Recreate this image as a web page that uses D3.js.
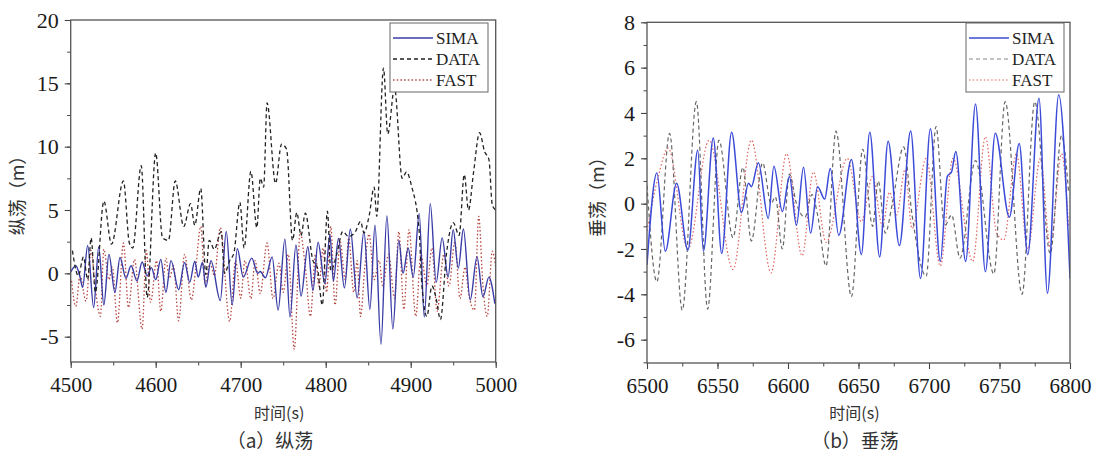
<!DOCTYPE html>
<html><head><meta charset="utf-8">
<script src="https://cdn.jsdelivr.net/npm/d3@7"></script>
<style>body{margin:0;background:#fff}svg{display:block}</style>
</head><body>
<svg id="c" width="1097" height="455"></svg>
<script>
// ---------- data ----------
const seriesNames = ["SIMA", "DATA", "FAST"];

const surgeXTicks = [4500, 4600, 4700, 4800, 4900, 5000];
const surgeYTicks = [-5, 0, 5, 10, 15, 20];
const heaveXTicks = [6500, 6550, 6600, 6650, 6700, 6750, 6800];
const heaveYTicks = [-6, -4, -2, 0, 2, 4, 6, 8];

const surgeSimaT = [4500,4506,4511,4514,4520,4527,4533,4539,4545,4552,4558,4565,4571,4578,4584,4590,4595,4600,4606,4612,4618,4627,4634,4640,4646,4650,4655,4659,4665,4676,4683,4690,4696,4703,4713,4720,4723,4729,4737,4744,4752,4758,4765,4771,4779,4785,4791,4799,4805,4809,4815,4822,4829,4837,4845,4852,4858,4865,4872,4879,4886,4891,4897,4903,4910,4916,4923,4930,4937,4944,4950,4956,4962,4970,4978,4985,4992,4999];
const surgeSimaV = [0.1,0.6,-0.3,-1.1,2.2,-2.7,2.1,-2.5,1.5,-1.5,1.25,-0.4,0.6,-0.6,0.9,-0.2,0.45,-0.5,1.1,-1.5,1.0,-1.3,0.85,-0.7,0.95,-0.3,0.85,-1.1,1.0,-2.15,3.3,-2.5,1.95,-0.3,1.2,0.0,0.15,-0.35,1.3,-2.9,2.7,-3.45,2.25,-1.8,2.1,-1.35,2.45,-0.8,3.05,-0.6,2.75,-1.15,3.5,-1.95,3.3,-2.85,3.8,-5.6,4.55,-4.4,2.6,0.0,2.0,-0.3,4.7,-3.45,5.5,-0.7,2.8,-0.3,3.45,0.4,3.5,-2.1,1.3,-1.85,-0.3,-2.4];

const surgeDataT = [4502,4509,4515,4520,4524,4529,4539,4548,4562,4569,4573,4583,4590,4600,4608,4615,4623,4633,4641,4646,4653,4659,4663,4669,4677,4681,4687,4692,4699,4704,4712,4719,4723,4727,4731,4741,4748,4754,4761,4766,4771,4776,4785,4790,4796,4802,4806,4813,4820,4827,4835,4841,4845,4851,4857,4860,4868,4873,4881,4890,4895,4901,4910,4913,4919,4925,4930,4935,4942,4950,4957,4963,4968,4974,4981,4987,4992,4996,5000];
const surgeDataV = [1.8,-0.2,1.3,-0.5,2.8,-1.5,5.7,2.3,7.3,2.4,2.0,8.5,-1.9,9.5,2.8,2.6,7.3,3.7,5.5,3.8,6.7,-0.1,2.6,1.9,3.3,0.0,1.0,1.6,5.6,2.0,8.05,3.6,7.5,6.8,13.45,7.1,10.2,9.8,2.6,4.8,3.0,4.75,1.0,0.5,-2.5,4.9,0.2,1.5,3.3,2.9,3.3,4.1,3.2,4.5,6.8,4.5,16.2,11.0,14.6,7.5,8.0,6.9,3.3,-0.8,-3.4,-1.0,-2.0,-3.65,1.5,4.0,3.0,7.8,5.0,8.0,11.1,9.6,9.0,5.4,5.0];

const surgeFastT = [4501,4506,4511,4518,4524,4529,4535,4539,4545,4549,4555,4562,4568,4575,4584,4589,4594,4601,4606,4612,4616,4621,4627,4634,4642,4647,4653,4658,4664,4669,4676,4687,4694,4700,4705,4712,4717,4723,4731,4738,4745,4750,4756,4763,4770,4776,4782,4788,4792,4797,4801,4806,4811,4817,4823,4827,4833,4837,4841,4846,4851,4857,4863,4867,4874,4881,4886,4892,4898,4906,4912,4919,4925,4931,4939,4945,4952,4958,4964,4968,4975,4980,4985,4990,4996,5000];
const surgeFastV = [-0.6,-2.6,-0.2,-2.2,1.8,-1.2,-3.4,1.9,-0.5,0.5,-3.9,2.4,-2.7,1.1,-4.4,1.8,-2.3,1.0,-3.0,1.2,-0.4,0.6,-3.75,1.5,-2.1,0.3,3.7,-0.8,0.8,-0.2,3.6,-3.8,1.0,-1.95,1.0,-2.0,1.0,-1.6,2.4,-2.0,0.8,-1.5,1.5,-6.0,3.2,0.5,-3.4,1.5,-1.0,2.0,-1.5,3.7,-2.5,2.5,-0.5,2.8,-1.5,1.0,-3.4,0.5,3.1,-0.5,1.0,-1.0,1.5,-2.0,3.3,-2.85,3.45,-3.4,1.5,-1.0,2.0,-3.0,1.5,-1.0,2.5,-2.0,0.5,-1.5,-2.9,4.5,-1.0,-3.4,1.75,0.5];

const heaveSimaT = [6500,6507,6513,6521,6529,6536,6540,6547,6553,6560,6567,6572,6574,6579,6586,6590,6596,6601,6606,6611,6616,6621,6626,6630,6636,6645,6652,6658,6665,6671,6679,6687,6694,6701,6708,6713,6716,6719,6726,6733,6740,6747,6757,6764,6770,6778,6784,6792,6800];
const heaveSimaV = [-2.7,1.35,-2.1,0.9,-2.05,2.35,-2.1,2.9,-2.2,3.15,-0.4,0.9,0.75,1.8,-0.65,1.65,-0.35,1.2,-0.95,1.6,-1.3,0.75,0.2,1.55,-1.4,1.95,-2.25,3.15,-2.35,2.75,-1.85,3.2,-3.3,3.3,-2.55,1.2,1.4,2.3,-2.55,4.4,-3.0,3.1,-0.6,2.65,-2.25,4.65,-3.95,4.8,-3.3];

const heaveDataT = [6500,6507,6516,6525,6535,6543,6551,6561,6568,6574,6582,6588,6591,6596,6601,6606,6612,6617,6621,6627,6634,6645,6653,6660,6664,6669,6674,6682,6688,6698,6705,6711,6716,6722,6733,6746,6754,6766,6775,6786,6794,6799];
const heaveDataV = [0.8,-3.45,3.1,-4.7,4.5,-4.65,2.8,-1.5,1.6,-1.65,1.8,0.0,0.3,-2.0,1.3,0.0,-0.6,0.4,-0.5,-2.75,3.2,-4.1,2.4,-1.0,1.0,-1.3,0.0,2.5,-0.5,-3.2,3.4,-1.0,-0.5,-2.4,1.9,-3.1,4.5,-4.0,4.5,-2.2,3.0,0.5];

const heaveFastT = [6500,6508,6515,6529,6544,6561,6574,6588,6599,6610,6618,6627,6642,6652,6660,6667,6672,6677,6683,6688,6698,6708,6717,6731,6740,6748,6753,6762,6770,6779,6786,6794,6799];
const heaveFastV = [-1.2,1.2,2.45,-2.0,2.8,-2.9,2.8,-3.05,2.2,-2.3,1.4,-1.7,2.0,-0.8,1.2,-1.0,0.5,-0.5,1.5,-1.1,2.0,-2.75,2.0,-2.55,2.95,-1.3,-1.6,2.2,-2.0,2.0,-1.9,2.2,-1.0];

// ---------- drawing ----------
const svg = d3.select("#c");
const serif = "'Liberation Serif','Times New Roman',serif";
const cjk = "'Noto Sans CJK SC','Noto Sans CJK JP',sans-serif";

function zip(t, v) { return t.map((d, i) => ({t: d, v: v[i]})); }

function panel(cfg) {
  const x = d3.scaleLinear().domain(cfg.xDomain).range([cfg.left, cfg.right]);
  const y = d3.scaleLinear().domain(cfg.yDomain).range([cfg.bottom, cfg.top]);
  const g = svg.append("g");
  const clipId = "clip" + cfg.id;
  svg.append("clipPath").attr("id", clipId).append("rect")
    .attr("x", cfg.left).attr("y", cfg.top)
    .attr("width", cfg.right - cfg.left).attr("height", cfg.bottom - cfg.top);

  const fmt = d => String(d);

  // minor ticks
  const xMinor = d3.range(cfg.xDomain[0], cfg.xDomain[1] + 0.001, cfg.xMinor);
  const yMinor = d3.range(cfg.yMinorStart, cfg.yDomain[1] + 0.001, cfg.yMinorStep);
  g.append("g").attr("transform", `translate(0,${cfg.bottom})`)
    .call(d3.axisBottom(x).tickValues(xMinor).tickSize(3.5).tickFormat("").tickSizeOuter(0))
    .call(s => s.select(".domain").remove())
    .selectAll("line").attr("stroke", "#444");
  g.append("g").attr("transform", `translate(${cfg.left},0)`)
    .call(d3.axisLeft(y).tickValues(yMinor).tickSize(3.5).tickFormat("").tickSizeOuter(0))
    .call(s => s.select(".domain").remove())
    .selectAll("line").attr("stroke", "#444");

  // major axes
  const xa = g.append("g").attr("transform", `translate(0,${cfg.bottom})`)
    .call(d3.axisBottom(x).tickValues(cfg.xTicks).tickSize(6).tickPadding(9).tickSizeOuter(0).tickFormat(fmt));
  xa.select(".domain").remove();
  xa.selectAll("line").attr("stroke", "#444").attr("stroke-width", 1.1);
  xa.selectAll("text").attr("font-family", serif).attr("font-size", 21).attr("fill", "#1a1a1a");
  const ya = g.append("g").attr("transform", `translate(${cfg.left},0)`)
    .call(d3.axisLeft(y).tickValues(cfg.yTicks).tickSize(6).tickPadding(6).tickSizeOuter(0).tickFormat(fmt));
  ya.select(".domain").remove();
  ya.selectAll("line").attr("stroke", "#444").attr("stroke-width", 1.1);
  ya.selectAll("text").attr("font-family", serif).attr("font-size", 22).attr("fill", "#1a1a1a");

  // lines
  const line = d3.line().x(d => x(d.t)).y(d => y(d.v)).curve(d3.curveMonotoneX);
  const lg = g.append("g").attr("clip-path", `url(#${clipId})`);
  cfg.series.forEach(s => {
    lg.append("path").datum(zip(s.t, s.v)).attr("d", line)
      .attr("fill", "none").attr("stroke", s.color).attr("stroke-width", s.width)
      .attr("stroke-dasharray", s.dash).attr("stroke-linejoin", "round");
  });

  // frame
  g.append("rect").attr("x", cfg.left).attr("y", cfg.top)
    .attr("width", cfg.right - cfg.left).attr("height", cfg.bottom - cfg.top)
    .attr("fill", "none").attr("stroke", "#555").attr("stroke-width", 1.3);

  // legend
  const L = cfg.legend;
  g.append("rect").attr("x", L.x).attr("y", L.y).attr("width", 98).attr("height", 69)
    .attr("fill", "#fff").attr("stroke", "#666").attr("stroke-width", 1);
  cfg.legendOrder.forEach((s, i) => {
    const yy = L.y + 15 + i * 21;
    g.append("line").attr("x1", L.x + 3).attr("x2", L.x + 43).attr("y1", yy).attr("y2", yy)
      .attr("stroke", s.color).attr("stroke-width", s.width).attr("stroke-dasharray", s.dash);
    g.append("text").attr("x", L.x + 46).attr("y", yy).attr("dy", "0.36em")
      .attr("font-family", serif).attr("font-size", 17).attr("fill", "#222").text(s.name);
  });

  // titles
  g.append("text").attr("transform", `translate(${cfg.yTitleX},${(cfg.top + cfg.bottom) / 2}) rotate(-90)`)
    .attr("text-anchor", "middle").attr("dy", "0.35em")
    .attr("font-family", cjk).attr("font-size", 18).attr("fill", "#333").text(cfg.yTitle);
  g.append("text").attr("x", (cfg.left + cfg.right) / 2 - 4).attr("y", 419)
    .attr("text-anchor", "middle").attr("font-family", cjk).attr("font-size", 16).attr("fill", "#333")
    .text(cfg.xTitle);
  g.append("text").attr("x", cfg.captionX).attr("y", 448)
    .attr("text-anchor", "middle").attr("font-family", cjk).attr("font-size", 19).attr("fill", "#333")
    .text(cfg.caption);
}

panel({
  id: "a", left: 70.7, right: 495.7, top: 20, bottom: 362,
  xDomain: [4500, 5000], yDomain: [-7, 20], xTicks: surgeXTicks, yTicks: surgeYTicks,
  xMinor: 50, yMinorStart: -5, yMinorStep: 2.5,
  yTitle: "纵荡（m）", xTitle: "时间(s)", caption: "（a）纵荡", captionX: 270, yTitleX: 18,
  legend: {x: 390, y: 23},
  series: [
    {name: seriesNames[2], t: surgeFastT, v: surgeFastV, color: "#b5453f", width: 1.3, dash: "1.5,2.2"},
    {name: seriesNames[0], t: surgeSimaT, v: surgeSimaV, color: "#3a3ca6", width: 1.4, dash: null},
    {name: seriesNames[1], t: surgeDataT, v: surgeDataV, color: "#222", width: 1.3, dash: "4,3"}
  ],
  legendOrder: [
    {name: seriesNames[0], color: "#3a3ca6", width: 1.4, dash: null},
    {name: seriesNames[1], color: "#222", width: 1.3, dash: "4,3"},
    {name: seriesNames[2], color: "#b5453f", width: 1.3, dash: "1.5,2.2"}
  ]
});

panel({
  id: "b", left: 647, right: 1070, top: 22.3, bottom: 363,
  xDomain: [6500, 6800], yDomain: [-7.03, 8], xTicks: heaveXTicks, yTicks: heaveYTicks,
  xMinor: 25, yMinorStart: -7, yMinorStep: 1,
  yTitle: "垂荡（m）", xTitle: "时间(s)", caption: "（b）垂荡", captionX: 855, yTitleX: 598,
  legend: {x: 966, y: 23},
  series: [
    {name: seriesNames[2], t: heaveFastT, v: heaveFastV, color: "#e0625e", width: 1.2, dash: "1.5,2.2"},
    {name: seriesNames[1], t: heaveDataT, v: heaveDataV, color: "#666", width: 1.2, dash: "4,3"},
    {name: seriesNames[0], t: heaveSimaT, v: heaveSimaV, color: "#3b4bd8", width: 1.5, dash: null}
  ],
  legendOrder: [
    {name: seriesNames[0], color: "#3b4bd8", width: 1.5, dash: null},
    {name: seriesNames[1], color: "#888", width: 1.2, dash: "4,3"},
    {name: seriesNames[2], color: "#e0625e", width: 1.2, dash: "1.5,2.2"}
  ]
});
</script>
</body></html>
